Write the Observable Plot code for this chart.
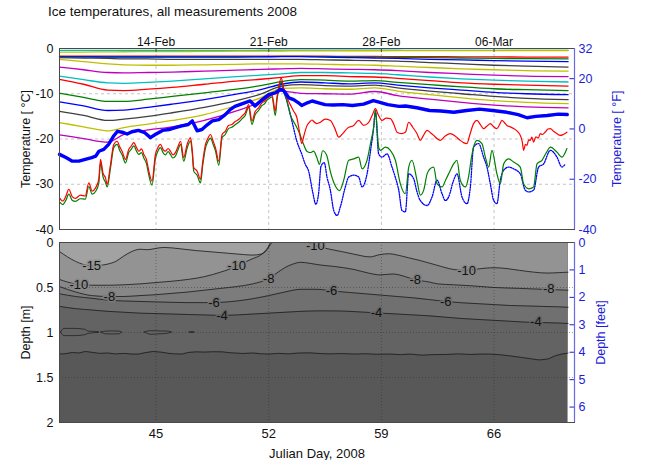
<!DOCTYPE html>
<html>
<head>
<meta charset="utf-8">
<script src="https://cdn.jsdelivr.net/npm/d3@7"></script>
<script src="https://cdn.jsdelivr.net/npm/@observablehq/plot@0.6"></script>
<style>
  body { margin: 0; background: #fff; }
  #fig { position: relative; width: 650px; height: 460px; font-family: "Liberation Sans", Arial, Helvetica, sans-serif; }
  #upper, #lower { position: absolute; left: 0; }
  #upper { top: 0; }
  #lower { top: 230px; }
  #title { position: absolute; left: 48px; top: 4px; font-size: 13.5px; color: #111; white-space: nowrap; }
  svg { background: transparent !important; }
</style>
</head>
<body>
<div id="fig">
  <div id="upper"></div>
  <div id="lower"></div>
  <div id="title">Ice temperatures, all measurements 2008</div>
</div>
<script>
// ---------- axes ----------
const dayTicks = [45, 52, 59, 66];
const dateLabels = ["14-Feb", "21-Feb", "28-Feb", "06-Mar"];
const tempTicksC = [0, -10, -20, -30, -40];
const tempGridC = [-10, -20, -30];
const tempTicksF = [32, 20, 0, -20, -40];
const depthTicksM = [0, 0.5, 1, 1.5, 2];
const depthGridM = [0.5, 1, 1.5];
const depthTicksFt = [0, 1, 2, 3, 4, 5, 6];

// ---------- thermistor string (thin lines, top to bottom) ----------
const stringDays = [39, 40.5, 42, 43, 44.5, 46, 48, 50, 51.5, 52.8, 54, 55.5, 57, 58.6, 60, 62, 64, 66, 68, 70.6];
const sensor01 = [-0.42, -0.42, -0.41, -0.41, -0.41, -0.4, -0.4, -0.4, -0.39, -0.38, -0.38, -0.38, -0.38, -0.38, -0.39, -0.4, -0.4, -0.41, -0.42, -0.42];
const sensor02 = [-0.8, -0.78, -0.75, -0.72, -0.7, -0.68, -0.65, -0.6, -0.58, -0.55, -0.53, -0.52, -0.5, -0.5, -0.48, -0.47, -0.46, -0.45, -0.44, -0.44];
const sensor03 = [-1.7, -1.7, -1.7, -1.7, -1.7, -1.7, -1.7, -1.7, -1.7, -1.7, -1.7, -1.7, -1.75, -1.75, -1.8, -1.8, -1.85, -1.85, -1.9, -1.9];
const sensor04 = [-1.8, -1.8, -1.8, -1.8, -1.8, -1.8, -1.8, -1.8, -1.8, -1.75, -1.75, -1.8, -1.85, -1.9, -1.95, -2.0, -2.1, -2.2, -2.25, -2.3];
const sensor05 = [-1.85, -1.85, -1.9, -1.9, -1.9, -1.9, -1.9, -1.9, -1.85, -1.8, -1.8, -1.9, -2.0, -2.1, -2.2, -2.4, -2.5, -2.7, -2.8, -2.9];
const sensor06 = [-2.0, -2.1, -2.2, -2.3, -2.3, -2.4, -2.4, -2.4, -2.4, -2.4, -2.4, -2.5, -2.6, -2.7, -2.8, -3.1, -3.4, -3.7, -3.9, -4.1];
const sensor07 = [-2.4, -2.9, -3.4, -3.6, -3.7, -3.7, -3.6, -3.5, -3.4, -3.4, -3.4, -3.5, -3.6, -3.7, -3.9, -4.2, -4.5, -4.7, -4.9, -5.0];
const sensor08 = [-4.1, -4.7, -5.3, -5.4, -5.3, -5.2, -5.0, -4.8, -4.6, -4.5, -4.4, -4.5, -4.6, -4.7, -4.9, -5.3, -5.6, -5.9, -6.1, -6.2];
const sensor09 = [-6.1, -6.9, -7.6, -7.7, -7.5, -7.2, -6.7, -6.2, -5.9, -5.6, -5.3, -5.3, -5.4, -5.5, -5.8, -6.3, -6.7, -7.0, -7.2, -7.4];
const sensor10 = [-6.8, -7.9, -9.2, -9.3, -9.0, -8.6, -7.9, -7.2, -6.8, -6.4, -6.0, -6.0, -6.2, -6.3, -6.6, -7.1, -7.6, -7.9, -8.1, -8.3];
const sensor11 = [-9.9, -10.8, -11.7, -11.7, -11.2, -10.6, -9.8, -9.0, -8.2, -7.3, -6.9, -7.0, -7.2, -7.1, -7.5, -8.0, -8.5, -8.9, -9.1, -9.3];
const sensor12 = [-11.8, -12.7, -13.7, -13.6, -13.0, -12.3, -11.3, -10.1, -9.1, -7.9, -7.4, -7.6, -7.8, -7.6, -8.1, -8.7, -9.2, -9.7, -10.0, -10.2];
const sensor13 = [-13.9, -14.8, -15.9, -15.6, -15.0, -14.2, -13.0, -11.5, -10.1, -8.3, -8.0, -8.2, -8.3, -8.1, -8.7, -9.4, -10.0, -10.6, -11.0, -11.3];
const sensor14 = [-16.4, -17.3, -18.2, -17.5, -16.7, -15.9, -14.6, -12.6, -10.9, -8.8, -8.7, -8.9, -9.0, -8.7, -9.4, -10.2, -10.9, -11.5, -11.9, -12.2];
const sensor15 = [-19.1, -19.9, -20.7, -19.0, -18.0, -17.3, -15.9, -13.8, -11.8, -9.4, -9.9, -10.0, -10.1, -9.5, -10.4, -11.2, -11.9, -12.5, -12.9, -13.1];

// ---------- ice surface (day, °C) ----------
const surface = [[39.0,-23.4],[39.4,-24.1],[39.8,-24.9],[40.2,-24.9],[40.6,-24.5],[41.0,-24.1],[41.25,-23.8],[41.45,-22.7],[41.75,-22.3],[42.05,-21.2],[42.35,-19.4],[42.6,-18.3],[42.9,-18.5],[43.2,-18.9],[43.5,-18.4],[43.9,-18.1],[44.3,-18.6],[44.65,-19.7],[44.95,-19.0],[45.4,-18.1],[45.8,-17.9],[46.2,-17.5],[46.6,-17.1],[47.0,-16.8],[47.25,-16.0],[47.55,-18.2],[47.85,-17.9],[48.2,-16.8],[48.5,-16.0],[48.9,-15.7],[49.3,-14.6],[49.6,-13.5],[49.9,-12.8],[50.5,-12.0],[50.85,-11.6],[51.15,-12.7],[51.6,-11.3],[52.0,-10.2],[52.4,-9.8],[52.75,-9.0],[52.95,-9.4],[53.25,-10.9],[53.55,-11.3],[53.85,-12.0],[54.05,-12.6],[54.4,-12.0],[54.7,-11.6],[55.1,-12.0],[55.5,-12.4],[56.0,-12.5],[56.6,-12.4],[57.2,-12.6],[57.9,-12.3],[58.5,-11.5],[58.8,-11.8],[59.4,-12.4],[60.1,-12.8],[60.5,-12.7],[61.2,-13.1],[62.0,-13.7],[62.7,-13.8],[63.5,-14.1],[64.3,-13.7],[65.1,-13.4],[65.9,-13.7],[66.8,-14.1],[67.5,-14.6],[68.05,-15.3],[68.6,-15.0],[69.3,-14.8],[70.0,-14.5],[70.55,-14.6]];

// ---------- air sensors (day, °C) ----------
const airRed = [[39.0,-33.0],[39.2,-33.7],[39.4,-32.6],[39.58,-31.1],[39.8,-32.8],[39.99,-33.1],[40.3,-32.4],[40.6,-32.6],[40.82,-29.7],[41.03,-31.5],[41.24,-30.8],[41.44,-28.9],[41.55,-24.5],[41.7,-27.5],[41.86,-28.6],[41.96,-30.0],[42.17,-25.6],[42.37,-21.2],[42.58,-20.5],[42.75,-21.8],[42.89,-22.7],[43.1,-24.5],[43.3,-22.3],[43.45,-21.6],[43.62,-20.8],[43.8,-22.0],[43.93,-22.7],[44.1,-22.2],[44.24,-23.4],[44.4,-24.5],[44.55,-27.1],[44.75,-29.3],[44.96,-23.4],[45.1,-22.0],[45.27,-21.2],[45.45,-22.4],[45.58,-22.7],[45.75,-22.1],[45.89,-22.7],[46.05,-23.5],[46.2,-23.0],[46.35,-21.8],[46.52,-20.5],[46.72,-24.1],[46.93,-21.2],[47.14,-19.7],[47.25,-22.5],[47.34,-26.3],[47.55,-27.1],[47.76,-28.9],[47.9,-25.0],[48.07,-21.2],[48.2,-20.0],[48.38,-19.0],[48.55,-20.5],[48.69,-21.9],[48.9,-24.9],[49.1,-19.0],[49.3,-18.3],[49.5,-17.0],[49.71,-16.8],[49.9,-16.2],[50.13,-15.7],[50.35,-14.9],[50.54,-14.2],[50.75,-12.4],[50.96,-16.0],[51.15,-14.0],[51.37,-13.1],[51.58,-12.0],[51.75,-11.6],[51.89,-10.9],[52.05,-10.5],[52.2,-10.2],[52.41,-13.8],[52.52,-10.5],[52.61,-8.7],[52.78,-6.5],[52.92,-8.7],[53.13,-10.9],[53.34,-12.4],[53.54,-13.8],[53.75,-15.3],[53.9,-18.2],[54.05,-21.0],[54.17,-19.5],[54.37,-17.1],[54.55,-16.2],[54.68,-15.8],[54.85,-16.3],[54.99,-16.6],[55.21,-16.3],[55.5,-15.6],[55.83,-15.9],[56.1,-17.6],[56.35,-19.6],[56.6,-18.8],[56.9,-17.6],[57.28,-17.0],[57.59,-15.9],[57.9,-17.0],[58.2,-16.4],[58.45,-14.6],[58.63,-13.3],[58.8,-14.6],[59.04,-15.9],[59.3,-15.4],[59.56,-15.5],[59.8,-17.0],[59.97,-18.5],[60.25,-18.8],[60.49,-18.5],[60.7,-16.3],[60.95,-17.4],[61.21,-18.8],[61.42,-20.3],[61.6,-19.3],[61.84,-18.1],[62.05,-18.6],[62.25,-19.2],[62.45,-19.9],[62.66,-20.3],[62.95,-19.4],[63.28,-18.8],[63.6,-19.4],[63.9,-20.3],[64.1,-20.8],[64.32,-21.0],[64.5,-19.0],[64.73,-16.6],[64.94,-15.9],[65.15,-16.8],[65.35,-17.7],[65.55,-17.2],[65.77,-16.6],[65.98,-17.3],[66.18,-17.7],[66.35,-16.8],[66.49,-15.9],[66.65,-16.4],[66.8,-17.0],[67.0,-17.3],[67.22,-17.7],[67.45,-18.3],[67.63,-19.2],[67.75,-20.5],[67.84,-22.5],[67.95,-21.2],[68.05,-21.4],[68.15,-20.2],[68.25,-20.3],[68.35,-19.6],[68.46,-20.7],[68.6,-19.5],[68.75,-19.8],[68.87,-18.8],[69.0,-19.0],[69.2,-18.4],[69.35,-17.8],[69.5,-17.7],[69.7,-18.3],[69.9,-18.8],[70.12,-19.2],[70.3,-19.0],[70.53,-18.5]];

const airGreen = [[39.0,-33.9],[39.2,-34.5],[39.4,-33.5],[39.58,-32.2],[39.8,-33.6],[39.99,-33.8],[40.3,-33.2],[40.6,-33.3],[40.82,-30.5],[41.03,-32.2],[41.24,-31.6],[41.44,-29.8],[41.55,-25.3],[41.7,-28.3],[41.86,-29.6],[41.96,-30.6],[42.17,-26.4],[42.37,-21.9],[42.58,-21.2],[42.75,-22.6],[42.89,-23.5],[43.1,-25.3],[43.3,-23.0],[43.45,-22.3],[43.62,-21.5],[43.8,-22.8],[43.93,-23.4],[44.1,-23.0],[44.24,-24.2],[44.4,-25.4],[44.55,-28.0],[44.75,-30.2],[44.96,-24.3],[45.1,-22.8],[45.27,-21.9],[45.45,-23.1],[45.58,-23.5],[45.75,-22.8],[45.89,-23.4],[46.05,-24.2],[46.2,-23.8],[46.35,-22.5],[46.52,-21.2],[46.72,-24.9],[46.93,-22.0],[47.14,-20.4],[47.25,-23.2],[47.34,-27.1],[47.55,-28.0],[47.76,-29.7],[47.9,-25.8],[48.07,-22.0],[48.2,-20.7],[48.38,-19.8],[48.55,-21.2],[48.69,-22.6],[48.9,-25.8],[49.1,-19.7],[49.3,-19.0],[49.5,-17.7],[49.71,-17.4],[49.9,-16.9],[50.13,-16.3],[50.35,-15.5],[50.54,-14.8],[50.75,-13.0],[50.96,-16.8],[51.15,-14.7],[51.37,-13.7],[51.58,-12.6],[51.75,-12.2],[51.89,-11.4],[52.05,-11.0],[52.2,-10.7],[52.41,-14.8],[52.52,-11.2],[52.61,-9.4],[52.78,-7.2],[52.92,-9.1],[53.13,-11.6],[53.34,-14.6],[53.65,-16.8],[53.9,-18.6],[54.17,-21.2],[54.37,-22.7],[54.58,-23.0],[54.79,-22.7],[54.99,-24.1],[55.15,-25.6],[55.35,-22.6],[55.6,-23.6],[55.85,-27.5],[56.14,-30.4],[56.4,-31.4],[56.66,-29.1],[56.97,-24.7],[57.28,-24.4],[57.59,-24.0],[57.8,-26.6],[58.11,-24.7],[58.35,-20.5],[58.52,-17.4],[58.63,-13.6],[58.83,-21.8],[58.94,-22.5],[59.25,-21.8],[59.56,-22.5],[59.87,-24.7],[60.18,-29.9],[60.49,-32.1],[60.7,-26.2],[60.9,-24.7],[61.21,-29.1],[61.42,-32.4],[61.63,-31.3],[61.84,-27.7],[62.05,-26.5],[62.25,-26.2],[62.46,-29.9],[62.77,-30.6],[63.0,-29.0],[63.18,-27.7],[63.49,-25.5],[63.7,-24.7],[63.9,-29.1],[64.22,-30.6],[64.42,-28.3],[64.6,-24.0],[64.73,-21.8],[64.94,-20.3],[65.25,-21.0],[65.46,-24.0],[65.67,-26.2],[65.87,-22.5],[66.18,-27.7],[66.39,-29.9],[66.6,-25.5],[66.91,-24.4],[67.22,-25.1],[67.63,-26.2],[67.84,-29.9],[68.15,-31.0],[68.46,-30.6],[68.67,-25.5],[68.98,-24.7],[69.25,-23.0],[69.5,-21.8],[69.91,-22.9],[70.22,-24.0],[70.53,-22.1]];

const airBlue = [[52.61,-9.8],[52.78,-7.6],[52.92,-9.4],[53.13,-11.6],[53.44,-16.0],[53.75,-20.5],[54.06,-23.4],[54.27,-25.6],[54.48,-27.1],[54.72,-31.5],[54.93,-34.4],[55.1,-32.0],[55.25,-26.0],[55.45,-25.2],[55.62,-28.4],[55.83,-31.3],[56.04,-35.8],[56.25,-36.9],[56.45,-35.0],[56.76,-30.6],[56.97,-28.4],[57.28,-28.0],[57.59,-28.4],[57.8,-30.6],[58.11,-27.7],[58.35,-22.0],[58.52,-17.5],[58.63,-13.9],[58.83,-23.3],[59.04,-24.0],[59.35,-23.3],[59.66,-26.2],[59.87,-28.5],[60.08,-31.3],[60.28,-35.8],[60.49,-36.1],[60.7,-27.7],[61.01,-28.8],[61.2,-31.5],[61.42,-33.6],[61.84,-34.7],[62.15,-32.8],[62.46,-29.1],[62.77,-32.1],[62.97,-33.6],[63.18,-32.8],[63.49,-29.1],[63.7,-27.7],[64.01,-32.8],[64.32,-34.3],[64.53,-30.6],[64.73,-21.8],[65.04,-21.0],[65.35,-24.0],[65.56,-26.2],[65.77,-29.9],[65.98,-33.6],[66.18,-34.3],[66.39,-29.1],[66.6,-26.9],[66.91,-26.2],[67.22,-26.6],[67.63,-27.7],[67.94,-31.3],[68.15,-31.7],[68.46,-31.3],[68.77,-26.2],[69.08,-25.5],[69.5,-22.5],[69.91,-24.0],[70.22,-26.2],[70.43,-25.5]];

// ---------- isotherm depths (m) ----------
const dataSpan = [39, 70.6];
const iso15Days = [39, 39.5, 40.0, 40.5, 41.0, 41.5, 42.0, 42.5, 43.0, 43.5, 44.0, 44.5, 45.0, 45.5, 46.5, 47.5, 48.5, 49.5, 50.5, 51.0, 51.5, 51.8, 52.0, 52.2];
const iso15Depth = [0.1, 0.16, 0.21, 0.245, 0.26, 0.255, 0.24, 0.21, 0.15, 0.1, 0.075, 0.08, 0.065, 0.055, 0.07, 0.09, 0.105, 0.12, 0.135, 0.14, 0.13, 0.1, 0.05, 0];
const iso10aDays = [39, 39.5, 40, 40.5, 41, 42, 43, 44, 45, 46, 47, 48, 49, 49.5, 50, 50.5, 51, 51.5, 51.8, 52.0, 52.1];
const iso10aDepth = [0.41, 0.44, 0.46, 0.47, 0.475, 0.475, 0.47, 0.46, 0.445, 0.43, 0.41, 0.38, 0.33, 0.3, 0.26, 0.22, 0.18, 0.14, 0.09, 0.04, 0];
const iso10bDays = [54.5, 54.8, 55.2, 55.8, 56.5, 57.3, 58.3, 58.9, 59.5, 60.0, 60.7, 61.4, 62.4, 63.5, 64.3, 65.2, 66.0, 66.8, 67.6, 68.5, 69.3, 70.0, 70.6];
const iso10bDepth = [0, 0.03, 0.05, 0.075, 0.1, 0.13, 0.16, 0.135, 0.125, 0.14, 0.17, 0.2, 0.25, 0.3, 0.31, 0.29, 0.28, 0.29, 0.31, 0.33, 0.34, 0.335, 0.33];
const iso8Days = [39, 40, 41, 42, 43, 44, 45, 46, 47, 48, 49, 50, 51, 52, 52.5, 53, 53.5, 54, 54.5, 55.2, 56, 57.3, 58.2, 58.9, 59.7, 60.5, 61.0, 62, 62.5, 63.5, 64.5, 66, 67.6, 69, 70.6];
const iso8Depth = [0.49, 0.55, 0.59, 0.6, 0.6, 0.59, 0.58, 0.565, 0.55, 0.53, 0.51, 0.49, 0.46, 0.4, 0.34, 0.28, 0.24, 0.22, 0.23, 0.25, 0.265, 0.3, 0.34, 0.36, 0.35, 0.38, 0.41, 0.44, 0.46, 0.47, 0.48, 0.5, 0.51, 0.52, 0.53];
const isoDays = [39, 40, 41, 42, 43, 44, 45, 46, 47, 48, 49, 50, 51, 52, 53, 54, 55, 56, 57, 58, 59, 60, 61, 62, 63, 64, 65, 66, 67, 68, 69, 70, 70.6];
const iso6Depth = [0.57, 0.6, 0.62, 0.64, 0.65, 0.655, 0.66, 0.665, 0.668, 0.668, 0.665, 0.65, 0.625, 0.59, 0.55, 0.52, 0.52, 0.54, 0.555, 0.57, 0.585, 0.6, 0.615, 0.635, 0.655, 0.67, 0.68, 0.69, 0.7, 0.705, 0.71, 0.715, 0.72];
const iso4Depth = [0.71, 0.735, 0.75, 0.765, 0.775, 0.785, 0.79, 0.795, 0.8, 0.805, 0.81, 0.805, 0.795, 0.785, 0.775, 0.765, 0.76, 0.76, 0.765, 0.775, 0.785, 0.795, 0.805, 0.815, 0.83, 0.845, 0.855, 0.865, 0.875, 0.885, 0.89, 0.895, 0.9];
const iso2Days = [39.0, 39.4, 39.8, 40.2, 40.6, 41.0, 41.5, 42.0, 42.5, 43.0, 43.5, 43.9, 44.3, 44.8, 45.3, 45.8, 46.2, 46.6, 47.0, 47.5, 48.0, 48.5, 49.1, 49.6, 50.4, 51.0, 51.5, 52.0, 52.6, 53.2, 53.8, 54.5, 55.2, 55.8, 56.5, 57.4, 58.0, 58.7, 59.5, 60.2, 60.8, 61.5, 62.2, 63.0, 63.8, 64.5, 65.2, 65.7, 66.3, 67.0, 67.7, 68.2, 68.8, 69.1, 69.4, 69.8, 70.2, 70.6];
const iso2Depth = [1.24, 1.235, 1.222, 1.228, 1.211, 1.22, 1.232, 1.228, 1.238, 1.232, 1.24, 1.24, 1.225, 1.211, 1.218, 1.232, 1.238, 1.24, 1.222, 1.215, 1.218, 1.214, 1.215, 1.225, 1.233, 1.228, 1.236, 1.24, 1.232, 1.238, 1.229, 1.226, 1.234, 1.238, 1.234, 1.24, 1.236, 1.242, 1.24, 1.246, 1.24, 1.252, 1.246, 1.244, 1.238, 1.244, 1.24, 1.24, 1.246, 1.26, 1.277, 1.29, 1.305, 1.3, 1.292, 1.259, 1.24, 1.229];

// closed isotherm islands near 1 m: [island, day, upper depth, lower depth]
const islands = [
  [1, 39.1, 1.0, 1.0], [1, 39.3, 0.96, 1.04], [1, 40.0, 0.96, 1.04], [1, 40.6, 0.97, 1.03], [1, 40.8, 0.99, 1.015], [1, 41.45, 0.995, 1.005],
  [2, 41.6, 1.0, 1.0], [2, 41.9, 0.99, 1.02], [2, 42.3, 0.988, 1.022], [2, 42.7, 0.99, 1.02], [2, 42.9, 1.0, 1.0],
  [3, 44.3, 1.0, 1.0], [3, 44.7, 0.985, 1.025], [3, 45.2, 0.988, 1.02], [3, 45.7, 0.99, 1.015], [3, 46.0, 1.0, 1.0],
  [4, 47.1, 1.0, 1.0], [4, 47.25, 0.994, 1.006], [4, 47.4, 1.0, 1.0]
];

// contour labels: [day, depth, text]
const contourLabels = [
  [41.0, 0.26, "-15"], [40.2, 0.465, "-10"], [42.1, 0.6, "-8"], [48.6, 0.668, "-6"], [49.1, 0.81, "-4"],
  [50.0, 0.26, "-10"], [52.0, 0.4, "-8"], [54.9, 0.04, "-10"], [55.9, 0.538, "-6"], [58.7, 0.78, "-4"],
  [61.1, 0.415, "-8"], [63.0, 0.655, "-6"], [64.3, 0.31, "-10"], [68.6, 0.885, "-4"], [69.4, 0.52, "-8"]
];
const labelLevels = ["-15", "-10", "-8", "-6", "-4"];

// ---------- styling ----------
const font = "Liberation Sans, Arial, Helvetica, sans-serif";
const axisBlue = "#1c1cd8";
const frameGrey = "#4a4a4a";
const sensorColors = ["#00bfbf", "#bfbf00", "#ff0000", "#008000", "#0000ff", "#404040", "#bfbf00", "#bf00bf",
                      "#00bfbf", "#ff0000", "#008000", "#0000ff", "#404040", "#bfbf00", "#bf00bf"];
const sensors = [sensor01, sensor02, sensor03, sensor04, sensor05, sensor06, sensor07, sensor08,
                 sensor09, sensor10, sensor11, sensor12, sensor13, sensor14, sensor15];

const dateOf = new Map(dayTicks.map((d, i) => [d, dateLabels[i]]));
const cToF = c => Math.round(c * 9 / 5 + 32);
const fToC = f => (f - 32) * 5 / 9;
const FT = 0.3048;

// ---------- temperature panel ----------
const upper = Plot.plot({
  width: 650, height: 236,
  marginTop: 48, marginBottom: 7, marginLeft: 59, marginRight: 76,
  style: {fontFamily: font, fontSize: "12.5px", color: "#111", background: "transparent", overflow: "visible"},
  x: {domain: [39, 71], axis: null},
  y: {domain: [-40, 0], axis: null},
  marks: [
    Plot.gridX(dayTicks, {stroke: "#c4c4c4", strokeOpacity: 1, strokeDasharray: "3,3"}),
    Plot.gridY(tempGridC, {stroke: "#c4c4c4", strokeOpacity: 1, strokeDasharray: "3,3"}),
    ...sensors.map((vals, k) => Plot.line(vals, {
      x: (d, i) => stringDays[i], y: d => d, stroke: sensorColors[k], strokeWidth: 1.3, curve: "monotone-x"
    })),
    Plot.line(airBlue, {x: d => d[0], y: d => d[1], stroke: "#0000ff", strokeWidth: 1.3, strokeDasharray: "1.3,1.3", curve: "monotone-x"}),
    Plot.line(airGreen, {x: d => d[0], y: d => d[1], stroke: "#008000", strokeWidth: 1.2, curve: "monotone-x"}),
    Plot.line(airRed, {x: d => d[0], y: d => d[1], stroke: "#ff0000", strokeWidth: 1.2, curve: "monotone-x"}),
    Plot.line(surface, {x: d => d[0], y: d => d[1], stroke: "#0000ff", strokeWidth: 3.4, curve: "linear"}),
    Plot.ruleX(dayTicks, {x: d => d, y1: 0, y2: -0.9, stroke: frameGrey}),
    Plot.ruleY(tempTicksF.map(fToC), {y: d => d, x1: 70.72, x2: 71, stroke: axisBlue}),
    Plot.frame({stroke: frameGrey}),
    Plot.ruleX([71], {stroke: "#6a6ae0", strokeWidth: 1.2}),
    Plot.axisX(dayTicks, {anchor: "top", tickSize: 0, tickPadding: 3, fontSize: 12, tickFormat: d => dateOf.get(d), label: null}),
    Plot.axisY(tempTicksC, {anchor: "left", tickSize: 0, tickPadding: 6, fontSize: 12.5, tickFormat: d => String(d),
      label: "Temperature [ °C]", labelAnchor: "center", labelOffset: 38, labelArrow: "none"}),
    Plot.axisY(tempTicksF.map(fToC), {anchor: "right", tickSize: 0, tickPadding: 4, fontSize: 12.5, color: axisBlue,
      tickFormat: d => String(cToF(d)), label: "Temperature [ °F]", labelAnchor: "center", labelOffset: 46, labelArrow: "none"})
  ]
});
document.getElementById("upper").append(upper);

// ---------- depth panel (filled isotherms) ----------
const band = {
  warm: "#585858", m2: "#636363", m4: "#707070", m6: "#7c7c7c", m8: "#878787", m10: "#939393", m15: "#a2a2a2"
};
// fill under each label so the contour line shows a gap there
const labelHalo = {"-15": band.m10, "-10": band.m8, "-8": band.m6, "-6": band.m4, "-4": band.m2};
const seg = (days, depth) => days.map((d, i) => ({day: d, depth: depth[i]}));
const iso15 = seg(iso15Days, iso15Depth);
const iso10a = seg(iso10aDays, iso10aDepth);
const iso10b = seg(iso10bDays, iso10bDepth);
const iso8 = seg(iso8Days, iso8Depth);
const iso6 = seg(isoDays, iso6Depth);
const iso4 = seg(isoDays, iso4Depth);
const iso2 = seg(iso2Days, iso2Depth);
const fillTo = (rows, color) => Plot.areaY(rows, {x: "day", y1: 0, y2: "depth", fill: color, curve: "monotone-x"});
const contour = (rows, curve) => Plot.line(rows, {x: "day", y: "depth", stroke: "#1a1a1a", strokeWidth: 0.8, curve});

const lower = Plot.plot({
  width: 650, height: 230,
  marginTop: 12, marginBottom: 38, marginLeft: 59, marginRight: 76,
  style: {fontFamily: font, fontSize: "12.5px", color: "#111", background: "transparent", overflow: "visible"},
  x: {domain: [39, 71], axis: null},
  y: {domain: [2, 0], axis: null},
  marks: [
    Plot.areaY(dataSpan, {x: d => d, y1: 0, y2: 2, fill: band.warm}),
    fillTo(iso2, band.m2),
    fillTo(iso4, band.m4),
    fillTo(iso6, band.m6),
    fillTo(iso8, band.m8),
    fillTo(iso10a, band.m10),
    fillTo(iso10b, band.m10),
    fillTo(iso15, band.m15),
    Plot.gridX(dayTicks, {stroke: "#2a2a2a", strokeOpacity: 0.45, strokeDasharray: "1,2"}),
    Plot.gridY(depthGridM, {stroke: "#2a2a2a", strokeOpacity: 0.45, strokeDasharray: "1,2"}),
    contour(iso2, "linear"),
    contour(iso4, "monotone-x"),
    contour(iso6, "monotone-x"),
    contour(iso8, "monotone-x"),
    contour(iso10a, "monotone-x"),
    contour(iso10b, "monotone-x"),
    contour(iso15, "monotone-x"),
    Plot.areaY(islands, {x: d => d[1], y1: d => d[2], y2: d => d[3], z: d => d[0], fill: band.m2,
      stroke: "#1a1a1a", strokeWidth: 0.7, curve: "monotone-x"}),
    ...labelLevels.map(lvl => Plot.text(contourLabels.filter(d => d[2] === lvl), {
      x: d => d[0], y: d => d[1], text: d => d[2], fontSize: 13, fill: "#111",
      stroke: labelHalo[lvl], strokeWidth: 3, paintOrder: "stroke", clip: true
    })),
    Plot.ruleY(depthTicksFt.map(f => f * FT), {y: d => d, x1: 70.72, x2: 71, stroke: axisBlue}),
    Plot.frame({stroke: frameGrey}),
    Plot.ruleX([71], {stroke: "#6a6ae0", strokeWidth: 1.2}),
    Plot.axisX(dayTicks, {anchor: "bottom", tickSize: 0, tickPadding: 6, fontSize: 13, tickFormat: d => String(d),
      label: "Julian Day, 2008", labelAnchor: "center", labelOffset: 35, labelArrow: "none"}),
    Plot.axisY(depthTicksM, {anchor: "left", tickSize: 0, tickPadding: 6, fontSize: 12.5, tickFormat: d => String(d),
      label: "Depth [m]", labelAnchor: "center", labelOffset: 38, labelArrow: "none"}),
    Plot.axisY(depthTicksFt.map(f => f * FT), {anchor: "right", tickSize: 0, tickPadding: 4, fontSize: 12.5, color: axisBlue,
      tickFormat: d => String(Math.round(d / FT)), label: "Depth [feet]", labelAnchor: "center", labelOffset: 30, labelArrow: "none"})
  ]
});
document.getElementById("lower").append(lower);
</script>
</body>
</html>
